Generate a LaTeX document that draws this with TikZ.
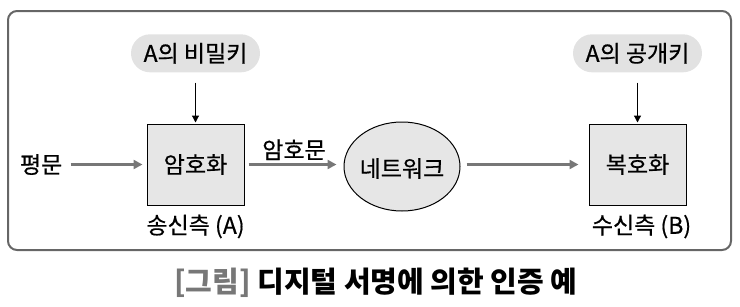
\documentclass[tikz,border=0pt]{standalone}
\usepackage{fontspec}
\setmainfont{Noto Sans CJK KR}
\newfontfamily\labfont{Noto Sans CJK KR}[FakeBold=0.6]
\usetikzlibrary{arrows.meta,positioning,shapes.geometric}
\definecolor{boxfill}{HTML}{E6E6E6}
\definecolor{keyfill}{HTML}{E2E2E2}
\definecolor{flowgray}{HTML}{777777}
\definecolor{framegray}{HTML}{666666}
\tikzset{
  box/.style   = {draw=black, fill=boxfill, line width=1pt, minimum width=97pt,
                  minimum height=81pt, font=\labfont\fontsize{23}{27}\selectfont},
  keyb/.style  = {fill=keyfill, rounded corners=19pt, minimum width=129pt,
                  minimum height=38pt, font=\labfont\fontsize{23}{27}\selectfont},
  netb/.style  = {ellipse, draw=black, fill=boxfill, line width=1pt, minimum width=116pt,
                  minimum height=89pt, inner sep=0pt},
  lab/.style   = {font=\labfont\fontsize{23}{27}\selectfont, inner sep=2pt},
  arr/.style   = {-{Triangle[length=9pt, width=9pt]}, draw=flowgray, line width=3pt},
  karr/.style  = {-{Triangle[length=7pt, width=7pt]}, draw=black, line width=1.2pt},
}

\begin{document}
\begin{tikzpicture}[x=1pt, y=-1pt]
  \useasboundingbox (0,0) rectangle (740,306);
  \draw[framegray, line width=2pt, rounded corners=9pt] (8,11) rectangle (731,250);
  \node[box] (enc) at (195.5,164.5) {암호화};
  \node[netb, right=99pt of enc, yshift=-2pt,
        label={[lab, yshift=-2pt]center:네트워크}] (net) {};
  \node[box, right=128pt of net.east |- enc.east, anchor=west] (dec) {복호화};
  \node[keyb, above=51pt of enc] (priv) {A의 비밀키};
  \node[keyb, above=51pt of dec] (pub) {A의 공개키};
  \node[lab, left=82pt of enc] (plain) {평문};
  \node[lab, below=7pt of enc] (snd) {송신측 (A)};
  \node[lab, below=7pt of dec, xshift=4pt] (rcv) {수신측 (B)};
  \node[font=\fontsize{29}{33}\selectfont\bfseries] (cap) at (376,283)
    {\textcolor{flowgray}{[그림]} 디지털 서명에 의한 인증 예};
  \draw[arr, shorten <=6pt, shorten >=4pt] (plain) -- (enc);
  \draw[arr, shorten <=4pt, shorten >=7pt] (enc) -- (net.west |- enc.east)
    node[midway, above=1pt, lab] {암호문};
  \draw[arr, shorten <=6pt, shorten >=10pt] (net.east |- dec.west) -- (dec);
  \draw[karr, shorten <=10pt, shorten >=1pt] (priv) -- (enc);
  \draw[karr, shorten <=10pt, shorten >=1pt] (pub) -- (dec);
\end{tikzpicture}
\end{document}
